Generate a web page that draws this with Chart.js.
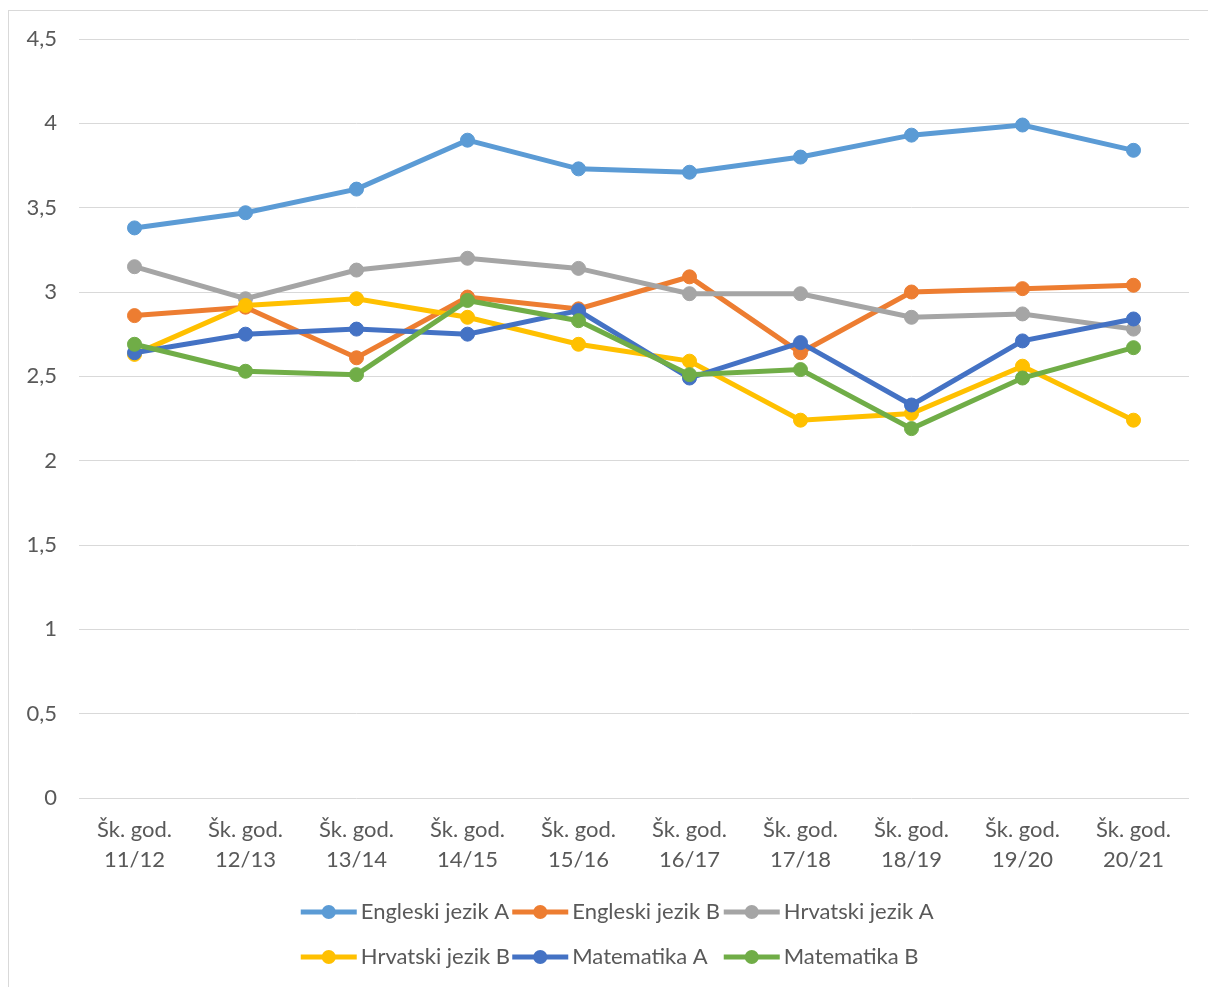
<!DOCTYPE html>
<html>
<head>
<meta charset="utf-8">
<script src="https://cdn.jsdelivr.net/npm/chart.js@4.4.1/dist/chart.umd.min.js"></script>
<style>
  html, body { margin: 0; padding: 0; background: #fff; }
  canvas { display: block; }
</style>
</head>
<body>
<canvas id="ocjene" width="1208" height="987"></canvas>
<script>
// skolske godine (x os)
const years = ['11/12', '12/13', '13/14', '14/15', '15/16', '16/17', '17/18', '18/19', '19/20', '20/21'];
const yTicks = [0, 0.5, 1, 1.5, 2, 2.5, 3, 3.5, 4, 4.5];

// prosjeci po predmetu
const engleskiA = [3.38, 3.47, 3.61, 3.90, 3.73, 3.71, 3.80, 3.93, 3.99, 3.84];
const engleskiB = [2.86, 2.91, 2.61, 2.97, 2.90, 3.09, 2.64, 3.00, 3.02, 3.04];
const hrvatskiA = [3.15, 2.96, 3.13, 3.20, 3.14, 2.99, 2.99, 2.85, 2.87, 2.78];
const hrvatskiB = [2.63, 2.92, 2.96, 2.85, 2.69, 2.59, 2.24, 2.28, 2.56, 2.24];
const matematikaA = [2.64, 2.75, 2.78, 2.75, 2.89, 2.49, 2.70, 2.33, 2.71, 2.84];
const matematikaB = [2.69, 2.53, 2.51, 2.95, 2.83, 2.51, 2.54, 2.19, 2.49, 2.67];

const seriesNames = ['Engleski jezik A', 'Engleski jezik B', 'Hrvatski jezik A', 'Hrvatski jezik B', 'Matematika A', 'Matematika B'];
const seriesData = [engleskiA, engleskiB, hrvatskiA, hrvatskiB, matematikaA, matematikaB];
const colors = ['#5B9BD5', '#ED7D31', '#A5A5A5', '#FFC000', '#4472C4', '#70AD47'];

const FONT = 'Lato, "Liberation Sans", sans-serif';
const TEXT = '#595959';

// border round the chart, like the excel chart frame
const frame = {
  id: 'frame',
  beforeDraw(chart) {
    const c = chart.ctx;
    c.save();
    c.fillStyle = '#fff';
    c.fillRect(0, 0, chart.width, chart.height);
    c.strokeStyle = '#d9d9d9';
    c.lineWidth = 1;
    c.strokeRect(8.5, 10.5, chart.width + 10, chart.height + 10);
    c.restore();
  }
};

// legend in a 3 column grid (chart.js legend can't do fixed columns)
const gridLegend = {
  id: 'gridLegend',
  afterDraw(chart) {
    const c = chart.ctx;
    const colW = 211.5, rowH = 45, lineW = 56;
    const x0 = chart.width / 2 - colW * 3 / 2 + 14;
    const y0 = chart.chartArea.bottom + 114;
    chart.data.datasets.forEach((ds, i) => {
      const x = x0 + (i % 3) * colW;
      const y = y0 + Math.floor(i / 3) * rowH;
      c.save();
      c.strokeStyle = ds.borderColor;
      c.lineWidth = 5;
      c.beginPath();
      c.moveTo(x, y);
      c.lineTo(x + lineW, y);
      c.stroke();
      c.fillStyle = ds.borderColor;
      c.beginPath();
      c.arc(x + lineW / 2, y, 7, 0, Math.PI * 2);
      c.fill();
      c.fillStyle = TEXT;
      c.font = '22px ' + FONT;
      c.textBaseline = 'middle';
      c.textAlign = 'left';
      c.fillText(ds.label, x + lineW + 4, y);
      c.restore();
    });
  }
};

const datasets = seriesNames.map((name, i) => ({
  label: name,
  data: seriesData[i],
  borderColor: colors[i],
  backgroundColor: colors[i],
  pointBackgroundColor: colors[i],
  pointBorderColor: colors[i],
  borderWidth: 5,
  pointRadius: 7,
  pointBorderWidth: 1,
  tension: 0,
  order: seriesNames.length - i
}));

new Chart(document.getElementById('ocjene'), {
  type: 'line',
  data: {
    labels: years.map(y => ['Šk. god.', y]),
    datasets: datasets
  },
  options: {
    responsive: false,
    animation: false,
    layout: { padding: { top: 39, right: 19, bottom: 109, left: 0 } },
    plugins: {
      legend: { display: false },
      tooltip: { enabled: false }
    },
    scales: {
      x: {
        offset: true,
        grid: { display: false },
        border: { display: false },
        ticks: {
          color: TEXT,
          font: { family: FONT, size: 22, lineHeight: 1.36 },
          padding: 9,
          maxRotation: 0,
          autoSkip: false
        },
        afterFit(scale) { scale.height = 80; }
      },
      y: {
        min: 0,
        max: 4.5,
        afterBuildTicks(scale) { scale.ticks = yTicks.map(v => ({ value: v })); },
        grid: { color: '#d9d9d9', lineWidth: 1, drawTicks: false },
        border: { display: false },
        ticks: {
          color: TEXT,
          font: { family: FONT, size: 22 },
          padding: 22,
          callback: v => String(v).replace('.', ',')
        },
        afterFit(scale) { scale.width = 79; }
      }
    }
  },
  plugins: [frame, gridLegend]
});
</script>
</body>
</html>
